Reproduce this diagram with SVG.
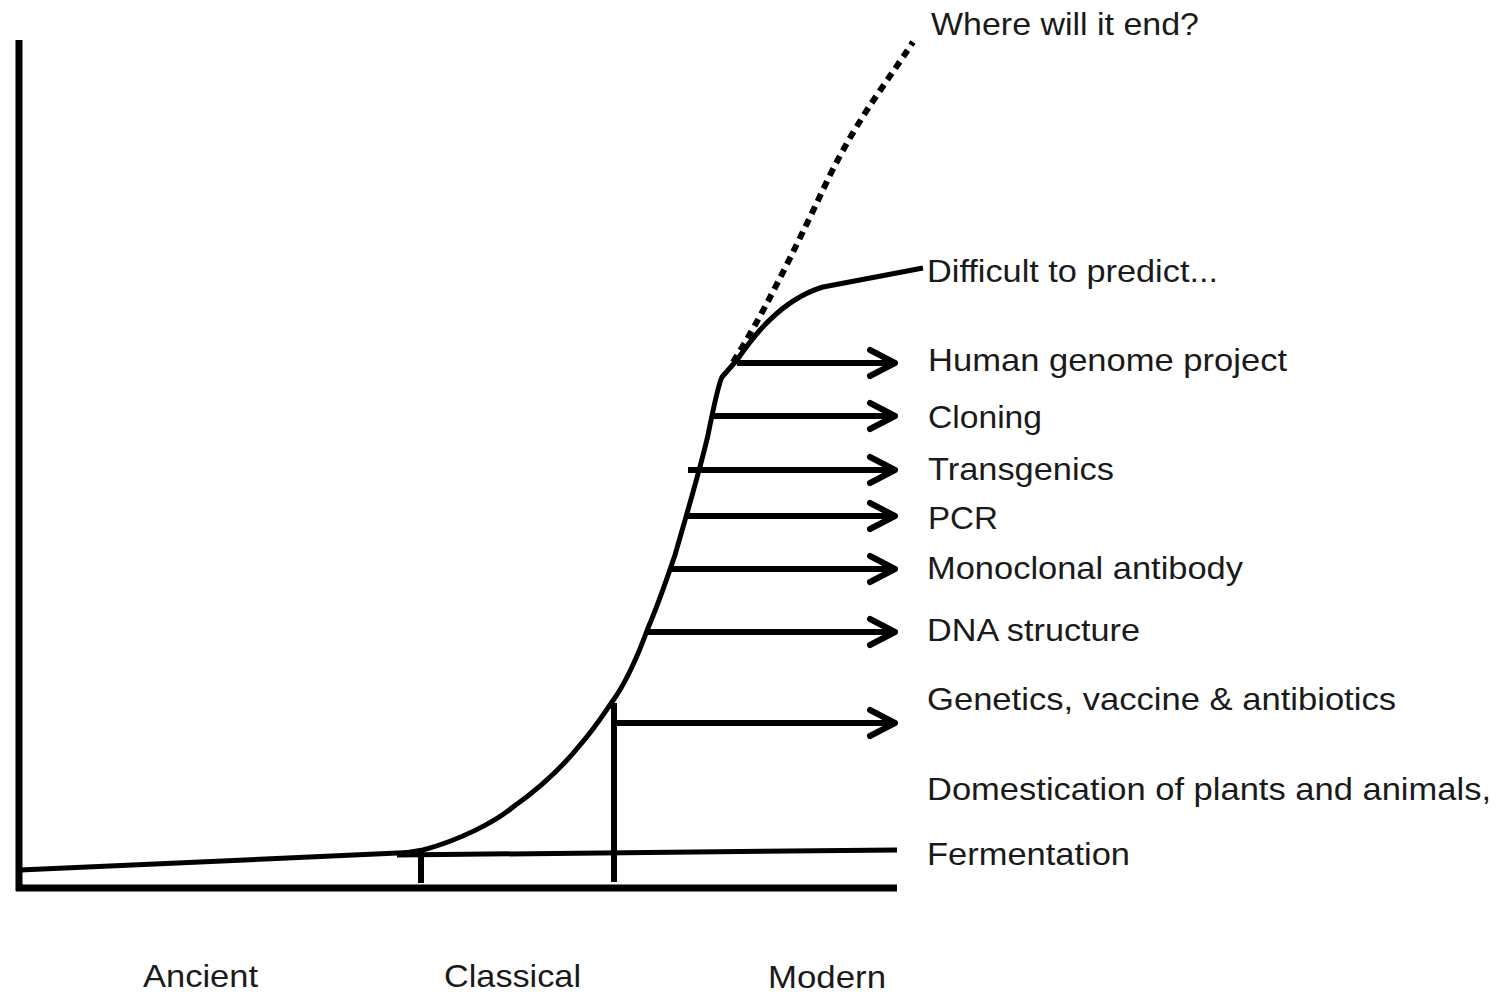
<svg xmlns="http://www.w3.org/2000/svg" width="1503" height="996" viewBox="0 0 1503 996">
<style>
.t{font-family:"Liberation Sans",Arial,sans-serif;font-size:31.5px;fill:#1a1a1a}
.ln{fill:none;stroke:#000;stroke-linecap:butt;stroke-linejoin:round}
</style>
<defs>
<marker id="ah" markerUnits="userSpaceOnUse" markerWidth="44" markerHeight="44" viewBox="-34 -22 44 44" refX="0" refY="0" orient="auto" overflow="visible">
<path d="M-25,-13 L0,0 L-25,13" fill="none" stroke="#000" stroke-width="6" stroke-linecap="round" stroke-linejoin="round"/>
</marker>
</defs>
<rect width="1503" height="996" fill="#fff"/>
<g id="axes">
<path class="ln" d="M19,40 V891" stroke-width="7"/>
<path class="ln" d="M16,888 H897" stroke-width="7"/>
</g>
<g id="curve">
<path class="ln" stroke-width="5" d="M20,870 L420,852"/>
<path class="ln" stroke-width="5" d="M397,855 L897,850"/>
<path class="ln" stroke-width="5" d="M405,853 L423,850 C460,840 495,822 513,807 C540,788 560,770 580,745 C595,728 605,712 612,702 C628,680 640,650 648,628 C660,600 668,575 675,555 C685,520 700,470 708,435 C713,410 718,385 722,377 L737,360 C752,338 780,300 823,287 L923,268"/>
<path class="ln" stroke-width="6" stroke-dasharray="8 6" d="M733,362 C760,320 790,260 830,175 C860,115 885,85 913,42"/>
</g>
<g id="ticks">
<path class="ln" stroke-width="6" d="M421,851 V883"/>
<path class="ln" stroke-width="6" d="M614,703 V882"/>
</g>
<g id="connectors">
<path class="ln" stroke-width="6" marker-end="url(#ah)" d="M737,363 H895"/>
<path class="ln" stroke-width="6" marker-end="url(#ah)" d="M714,416 H895"/>
<path class="ln" stroke-width="6" marker-end="url(#ah)" d="M688,470 H895"/>
<path class="ln" stroke-width="6" marker-end="url(#ah)" d="M686,516 H895"/>
<path class="ln" stroke-width="6" marker-end="url(#ah)" d="M670,569 H895"/>
<path class="ln" stroke-width="6" marker-end="url(#ah)" d="M646,632 H895"/>
<path class="ln" stroke-width="6" marker-end="url(#ah)" d="M614,723 H895"/>
</g>
<g id="labels">
<text id="where" class="t" x="931" y="35" textLength="268" lengthAdjust="spacingAndGlyphs">Where will it end?</text>
<text id="difficult" class="t" x="927" y="282" textLength="291" lengthAdjust="spacingAndGlyphs">Difficult to predict...</text>
<text id="hgp" class="t" x="928" y="371" textLength="359" lengthAdjust="spacingAndGlyphs">Human genome project</text>
<text id="cloning" class="t" x="928" y="428" textLength="114" lengthAdjust="spacingAndGlyphs">Cloning</text>
<text id="transgenics" class="t" x="928" y="480" textLength="186" lengthAdjust="spacingAndGlyphs">Transgenics</text>
<text id="pcr" class="t" x="928" y="529" textLength="70" lengthAdjust="spacingAndGlyphs">PCR</text>
<text id="mab" class="t" x="927" y="579" textLength="316" lengthAdjust="spacingAndGlyphs">Monoclonal antibody</text>
<text id="dna" class="t" x="927" y="641" textLength="213" lengthAdjust="spacingAndGlyphs">DNA structure</text>
<text id="genetics" class="t" x="927" y="710" textLength="469" lengthAdjust="spacingAndGlyphs">Genetics, vaccine &amp; antibiotics</text>
<text id="domestication" class="t" x="927" y="800" textLength="564" lengthAdjust="spacingAndGlyphs">Domestication of plants and animals,</text>
<text id="fermentation" class="t" x="927" y="865" textLength="203" lengthAdjust="spacingAndGlyphs">Fermentation</text>
<text id="ancient" class="t" x="143" y="987" textLength="115" lengthAdjust="spacingAndGlyphs">Ancient</text>
<text id="classical" class="t" x="444" y="987" textLength="137" lengthAdjust="spacingAndGlyphs">Classical</text>
<text id="modern" class="t" x="768" y="988" textLength="118" lengthAdjust="spacingAndGlyphs">Modern</text>
</g>
</svg>
